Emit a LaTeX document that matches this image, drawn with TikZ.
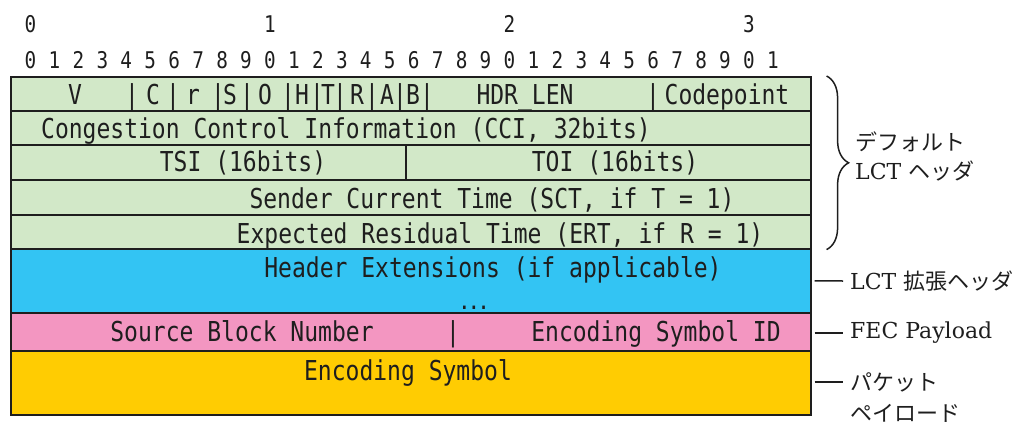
\documentclass[tikz,border=0pt]{standalone}
\usepackage{fontspec}
\usetikzlibrary{positioning,decorations.pathreplacing}
\newfontfamily\boxfont[FakeStretch=0.84]{DejaVu Sans Mono}
\newfontfamily\lblfont{DejaVu Serif}
\newfontfamily\jafont{Noto Sans CJK JP}
\definecolor{hdrgreen}{HTML}{D2E8C8}
\definecolor{extblue}{HTML}{33C4F3}
\definecolor{fecpink}{HTML}{F396C1}
\definecolor{symyellow}{HTML}{FFCC02}
\definecolor{ink}{HTML}{1E1E1E}
\begin{document}
\begin{tikzpicture}[x=1pt,y=-1pt,
    row/.style={draw=ink, line width=1.6pt, anchor=north west, inner sep=0pt, minimum width=800},
    txt/.style={anchor=base, inner sep=0pt, text=ink, font=\boxfont\fontsize{27.4}{30}\selectfont},
    num/.style={anchor=base, inner sep=0pt, text=ink, font=\boxfont\fontsize{23}{26}\selectfont},
    lbl/.style={anchor=west, inner xsep=7pt, inner ysep=0pt, text=ink, font=\lblfont\fontsize{22}{26}\selectfont}]
    \useasboundingbox (0,0) rectangle (1030,426);
    % bit ruler
    \foreach \t in {0,...,3}
        \node[num] (d\t) at (30.5+239.5*\t,32) {\t};
    \foreach \i in {0,...,31} {
        \pgfmathtruncatemacro\u{mod(\i,10)}
        \node[num] (u\i) at (30.5+23.95*\i,68) {\u};
    }
    % packet rows
    \node[row, fill=hdrgreen, minimum height=34] (r1) at (10,76) {};
    \node[row, fill=hdrgreen, minimum height=34] (r2) at (10,110) {};
    \node[row, fill=hdrgreen, minimum height=35, minimum width=395] (tsi) at (10,144) {};
    \node[row, fill=hdrgreen, minimum height=35, minimum width=405] (toi) at (405,144) {};
    \node[row, fill=hdrgreen, minimum height=35] (r4) at (10,179) {};
    \node[row, fill=hdrgreen, minimum height=34] (r5) at (10,214) {};
    \node[row, fill=extblue, minimum height=64] (ext) at (10,248) {};
    \node[row, fill=fecpink, minimum height=38] (fec) at (10,312) {};
    \node[row, fill=symyellow, minimum height=64] (sym) at (10,350) {};
    % field texts
    \foreach \x/\lab [count=\k] in {75/V,132/|,153/C,173/|,193/r,218/|,230/S,247/|,265/O,
        288/|,302/H,317/|,328/T,340/|,357/R,372/|,387/A,400/|,413/B,427/|,
        525/HDR\_LEN,653/|,727/Codepoint}
        \node[txt] (f\k) at (\x,104) {\lab};
    \node[txt] (cci) at (346,138) {Congestion Control Information (CCI, 32bits)};
    \node[txt] (tsit) at (243,171) {TSI (16bits)};
    \node[txt] (toit) at (615,171) {TOI (16bits)};
    \node[txt] (sct) at (492,208) {Sender Current Time (SCT, if T = 1)};
    \node[txt] (ert) at (500,243) {Expected Residual Time (ERT, if R = 1)};
    \node[txt] (hext) at (493,277) {Header Extensions (if applicable)};
    \node[txt, font=\boxfont\bfseries\fontsize{19}{20}\selectfont] (dots) at (474,309) {...};
    \node[txt] (sbn) at (242,341) {Source Block Number};
    \node[txt] (sep) at (453,341) {|};
    \node[txt] (esi) at (656,341) {Encoding Symbol ID};
    \node[txt] (est) at (408,380) {Encoding Symbol};
    % right side labels
    \draw[ink, line width=1.5pt, decorate, decoration={brace, amplitude=22pt}]
        ([xshift=15]r1.north east) -- ([xshift=15]r5.south east);
    \node[lbl] (def1) at (848,142) {\jafont デフォルト};
    \node[lbl] (def2) at (848,171) {LCT {\jafont ヘッダ}};
    \node[lbl] (extlbl) at (843,281) {LCT {\jafont 拡張ヘッダ}};
    \node[lbl] (feclbl) at (843,333) {FEC Payload};
    \node[lbl] (pay1) at (843,382) {\jafont パケット};
    \node[lbl] (pay2) at (843,413) {\jafont ペイロード};
    \draw[ink, line width=1.5pt] ([xshift=3]ext.east) -- (extlbl.west);
    \draw[ink, line width=1.5pt] ([xshift=3]fec.east |- feclbl.west) -- (feclbl.west);
    \draw[ink, line width=1.5pt] ([xshift=3]sym.east |- pay1.west) -- (pay1.west);
\end{tikzpicture}
\end{document}
